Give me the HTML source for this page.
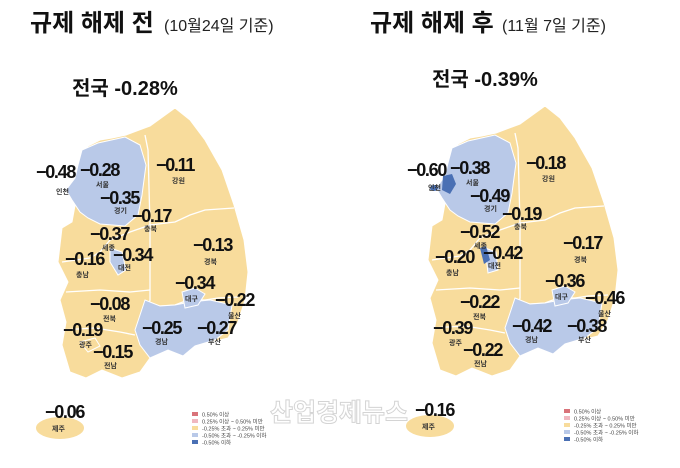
<!DOCTYPE html>
<html><head><meta charset="utf-8"><style>
body{margin:0;background:#fff;width:680px;height:468px;overflow:hidden}
svg{display:block}
text{font-family:"Liberation Sans","Noto Sans CJK KR",sans-serif}
.v{font-size:18px;font-weight:bold;fill:#111;letter-spacing:-1.3px}
.n{font-size:7px;font-weight:bold;fill:#333}
.lg{font-size:5.5px;fill:#444}
</style></head><body>
<svg width="680" height="468" viewBox="0 0 680 468">
<defs>
<g id="land">
<path d="M175,108 L190,120 L205,140 L222,170 L234,205 L244,240 L248,272 L245,300 L238,322 L228,338 L212,342 L195,346 L183,356 L168,350 L150,358 L140,372 L122,378 L102,370 L86,378 L70,372 L62,345 L66,322 L60,300 L68,282 L58,262 L62,228 L72,222 L76,200 L70,186 L78,172 L80,160 L88,146 L100,140 L112,138 L126,135 L150,126 Z" fill="#f8dc9c" stroke="#fff" stroke-width="1"/>
<path d="M150,258 L150,300 L145,318 L160,306 L175,305 L188,300 L205,300 L218,298 L238,297" fill="none" stroke="#fff" stroke-width="1.3"/>
<path d="M62,262 L90,258 L100,252 L110,240 L130,232 L150,225 L175,222 L190,215 L205,210 L234,208" fill="none" stroke="#fff" stroke-width="1.3"/>
<path d="M66,292 L100,290 L130,292 L150,290" fill="none" stroke="#fff" stroke-width="1.3"/>
<path d="M60,330 L95,328 L120,332 L135,335" fill="none" stroke="#fff" stroke-width="1.3"/>
<path d="M150,225 L150,258" fill="none" stroke="#fff" stroke-width="1.3"/>
<path d="M145,135 L148,150 L150,225" fill="none" stroke="#fff" stroke-width="1.3"/>
<ellipse cx="60" cy="428" rx="24" ry="11" fill="#f8dc9c"/>
</g>
</defs>

<text x="30" y="31" font-size="24" font-weight="bold" fill="#111">규제 해제 전</text>
<text x="164" y="31" font-size="16" fill="#222">(10월24일 기준)</text>
<text x="370" y="31" font-size="24" font-weight="bold" fill="#111">규제 해제 후</text>
<text x="502" y="31" font-size="16" fill="#222">(11월 7일 기준)</text>
<text x="72" y="95" font-size="20" font-weight="bold" fill="#111">전국 -0.28%</text>
<text x="432" y="86" font-size="20" font-weight="bold" fill="#111">전국 -0.39%</text>

<!-- LEFT MAP -->
<g>
<use href="#land"/>
<path d="M82,150 L98,143 L125,137 L140,145 L146,165 L142,195 L138,215 L125,226 L100,224 L88,218 L80,212 L72,200 L66,190 L75,178 L78,165 Z" fill="#b9c9e8" stroke="#fff" stroke-width="1"/>
<path d="M145,300 L160,306 L175,305 L190,302 L210,300 L232,305 L228,330 L215,340 L195,346 L183,356 L168,350 L150,358 L140,345 L135,330 L140,315 Z" fill="#b9c9e8" stroke="#fff" stroke-width="1"/>
<path d="M182,292 L195,288 L205,294 L198,305 L185,308 Z" fill="#b9c9e8" stroke="#fff"/>
<path d="M110,248 L122,252 L126,270 L118,275 L110,262 Z" fill="#b9c9e8" stroke="#fff"/>
<path d="M80,342 L95,338 L100,346 L88,352 Z" fill="#f8dc9c" stroke="#fff"/>
<text class="v" x="36" y="178">−0.48</text><text class="n" x="56" y="194">인천</text>
<text class="v" x="80" y="176">−0.28</text><text class="n" x="96" y="187">서울</text>
<text class="v" x="100" y="204">−0.35</text><text class="n" x="114" y="213">경기</text>
<text class="v" x="156" y="171">−0.11</text><text class="n" x="172" y="183">강원</text>
<text class="v" x="132" y="222">−0.17</text><text class="n" x="144" y="231">충북</text>
<text class="v" x="90" y="240">−0.37</text><text class="n" x="102" y="250">세종</text>
<text class="v" x="113" y="261">−0.34</text><text class="n" x="118" y="270">대전</text>
<text class="v" x="65" y="265">−0.16</text><text class="n" x="76" y="277">충남</text>
<text class="v" x="193" y="251">−0.13</text><text class="n" x="204" y="264">경북</text>
<text class="v" x="175" y="289">−0.34</text><text class="n" x="185" y="301">대구</text>
<text class="v" x="215" y="306">−0.22</text><text class="n" x="228" y="318">울산</text>
<text class="v" x="90" y="310">−0.08</text><text class="n" x="103" y="321">전북</text>
<text class="v" x="142" y="334">−0.25</text><text class="n" x="155" y="344">경남</text>
<text class="v" x="197" y="334">−0.27</text><text class="n" x="208" y="344">부산</text>
<text class="v" x="63" y="336">−0.19</text><text class="n" x="79" y="347">광주</text>
<text class="v" x="93" y="358">−0.15</text><text class="n" x="104" y="368">전남</text>
<text class="v" x="45" y="418">−0.06</text><text class="n" x="52" y="431">제주</text>
</g>

<!-- RIGHT MAP -->
<g transform="translate(370,-2)">
<use href="#land"/>
<path d="M82,150 L98,143 L125,137 L140,145 L146,165 L142,195 L138,215 L125,226 L100,224 L88,218 L80,212 L72,200 L66,190 L75,178 L78,165 Z" fill="#b9c9e8" stroke="#fff" stroke-width="1"/>
<path d="M145,300 L160,306 L175,305 L190,302 L210,300 L232,305 L228,330 L215,340 L195,346 L183,356 L168,350 L150,358 L140,345 L135,330 L140,315 Z" fill="#b9c9e8" stroke="#fff" stroke-width="1"/>
<path d="M182,292 L195,288 L205,294 L198,305 L185,308 Z" fill="#b9c9e8" stroke="#fff"/>
<path d="M115,250 L126,254 L128,272 L118,275 Z" fill="#b9c9e8" stroke="#fff"/>
<path d="M110,250 L116,248 L120,262 L114,266 Z" fill="#4a70b4"/>
<path d="M73,178 L82,176 L86,186 L80,196 L72,192 Z" fill="#4a70b4"/>
<ellipse cx="64" cy="190" rx="4" ry="3" fill="#4a70b4"/>
<text class="v" x="37" y="178">−0.60</text><text class="n" x="58" y="192">인천</text>
<text class="v" x="80" y="176">−0.38</text><text class="n" x="96" y="187">서울</text>
<text class="v" x="100" y="204">−0.49</text><text class="n" x="114" y="213">경기</text>
<text class="v" x="156" y="171">−0.18</text><text class="n" x="172" y="183">강원</text>
<text class="v" x="132" y="222">−0.19</text><text class="n" x="144" y="231">충북</text>
<text class="v" x="90" y="240">−0.52</text><text class="n" x="104" y="250">세종</text>
<text class="v" x="113" y="261">−0.42</text><text class="n" x="118" y="270">대전</text>
<text class="v" x="65" y="265">−0.20</text><text class="n" x="76" y="277">충남</text>
<text class="v" x="193" y="251">−0.17</text><text class="n" x="204" y="264">경북</text>
<text class="v" x="175" y="289">−0.36</text><text class="n" x="185" y="301">대구</text>
<text class="v" x="215" y="306">−0.46</text><text class="n" x="228" y="318">울산</text>
<text class="v" x="90" y="310">−0.22</text><text class="n" x="103" y="321">전북</text>
<text class="v" x="142" y="334">−0.42</text><text class="n" x="155" y="344">경남</text>
<text class="v" x="197" y="334">−0.38</text><text class="n" x="208" y="344">부산</text>
<text class="v" x="63" y="336">−0.39</text><text class="n" x="79" y="347">광주</text>
<text class="v" x="93" y="358">−0.22</text><text class="n" x="104" y="368">전남</text>
<text class="v" x="45" y="418">−0.16</text><text class="n" x="52" y="431">제주</text>
</g>

<!-- watermark -->
<text x="270" y="421" font-size="25" fill="#fff" stroke="#d4d4d4" stroke-width="1" font-weight="bold">산업경제뉴스</text>

<!-- legends -->
<g transform="translate(192,412)">
<rect x="0" y="0" width="6" height="4" fill="#d9737a"/><text class="lg" x="10" y="4.5">0.50% 이상</text>
<rect x="0" y="7" width="6" height="4" fill="#f0b8c0"/><text class="lg" x="10" y="11.5">0.25% 이상 ~ 0.50% 미만</text>
<rect x="0" y="14" width="6" height="4" fill="#f8dc9c"/><text class="lg" x="10" y="18.5">-0.25% 초과 ~ 0.25% 미만</text>
<rect x="0" y="21" width="6" height="4" fill="#b9c9e8"/><text class="lg" x="10" y="25.5">-0.50% 초과 ~ -0.25% 이하</text>
<rect x="0" y="28" width="6" height="4" fill="#4a70b4"/><text class="lg" x="10" y="32.5">-0.50% 이하</text>
</g>
<g transform="translate(564,409)">
<rect x="0" y="0" width="6" height="4" fill="#d9737a"/><text class="lg" x="10" y="4.5">0.50% 이상</text>
<rect x="0" y="7" width="6" height="4" fill="#f0b8c0"/><text class="lg" x="10" y="11.5">0.25% 이상 ~ 0.50% 미만</text>
<rect x="0" y="14" width="6" height="4" fill="#f8dc9c"/><text class="lg" x="10" y="18.5">-0.25% 초과 ~ 0.25% 미만</text>
<rect x="0" y="21" width="6" height="4" fill="#b9c9e8"/><text class="lg" x="10" y="25.5">-0.50% 초과 ~ -0.25% 이하</text>
<rect x="0" y="28" width="6" height="4" fill="#4a70b4"/><text class="lg" x="10" y="32.5">-0.50% 이하</text>
</g>
</svg>
</body></html>
